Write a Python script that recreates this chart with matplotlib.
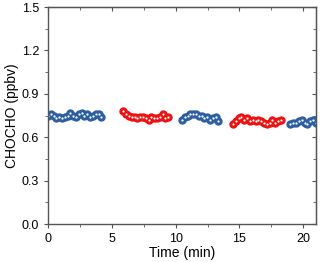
import numpy as np
import matplotlib.pyplot as plt
from matplotlib.ticker import MultipleLocator, NullFormatter

plt.rcParams['font.family'] = ['Liberation Sans', 'DejaVu Sans']

# blue runs
t1 = [0.0, 0.22, 0.44, 0.66, 0.88, 1.1, 1.32, 1.54, 1.76, 1.98, 2.2, 2.42, 2.64, 2.86, 3.08, 3.3, 3.52, 3.74, 3.96, 4.18]
c1 = [0.75, 0.76, 0.75, 0.73, 0.74, 0.73, 0.74, 0.75, 0.77, 0.75, 0.74, 0.76, 0.77, 0.75, 0.76, 0.74, 0.75, 0.76, 0.76, 0.74]
t3 = [10.5, 10.72, 10.94, 11.16, 11.38, 11.6, 11.82, 12.04, 12.26, 12.48, 12.7, 12.92, 13.14, 13.36]
c3 = [0.72, 0.74, 0.75, 0.76, 0.76, 0.76, 0.75, 0.75, 0.73, 0.74, 0.72, 0.73, 0.74, 0.71]
t5 = [19.0, 19.22, 19.44, 19.66, 19.88, 20.1, 20.32, 20.54, 20.76, 20.98]
c5 = [0.69, 0.70, 0.70, 0.71, 0.72, 0.70, 0.69, 0.71, 0.72, 0.70]

# red runs
t2 = [5.9, 6.12, 6.34, 6.56, 6.78, 7.0, 7.22, 7.44, 7.66, 7.88, 8.1, 8.32, 8.54, 8.76, 8.98, 9.2, 9.42]
c2 = [0.78, 0.76, 0.75, 0.74, 0.74, 0.73, 0.74, 0.74, 0.73, 0.72, 0.74, 0.73, 0.73, 0.74, 0.76, 0.73, 0.74]
t4 = [14.5, 14.72, 14.94, 15.16, 15.38, 15.6, 15.82, 16.04, 16.26, 16.48, 16.7, 16.92, 17.14, 17.36, 17.58, 17.8, 18.02, 18.24]
c4 = [0.69, 0.71, 0.73, 0.74, 0.72, 0.73, 0.71, 0.72, 0.71, 0.72, 0.71, 0.70, 0.69, 0.70, 0.72, 0.70, 0.71, 0.72]

blue = "#2d5fa0"
red = "#ee1111"

fig = plt.figure(figsize=(3.2, 2.62), dpi=100)
ax = fig.add_axes([0.15, 0.145, 0.8375, 0.828])

for t, c in [(t1, c1), (t3, c3), (t5, c5)]:
    ax.plot(t, c, "o", ms=5, mfc=blue, mec=blue, mew=1.0)
    ax.plot(t, c, "o", ms=1.6, mfc="white", mec="none")
for t, c in [(t2, c2), (t4, c4)]:
    ax.plot(t, c, "o", ms=5, mfc=red, mec=red, mew=1.0)
    ax.plot(t, c, "o", ms=1.6, mfc="white", mec="none")

ax.set_xlim(0, 21)
ax.set_ylim(0, 1.5)
ax.xaxis.set_major_locator(MultipleLocator(5))
ax.xaxis.set_minor_locator(MultipleLocator(2.5))
ax.yaxis.set_major_locator(MultipleLocator(0.3))
ax.yaxis.set_minor_locator(MultipleLocator(0.15))
ax.yaxis.set_major_formatter(plt.FormatStrFormatter("%.1f"))

for s in ax.spines.values():
    s.set_color("#555555")
    s.set_linewidth(1.0)
ax.tick_params(which="both", direction="out", colors="#555555", labelcolor="black", labelsize=9)
ax.tick_params(which="major", length=3)
ax.tick_params(which="minor", length=2)

# inward ticks on top and right
top = ax.secondary_xaxis("top")
top.xaxis.set_major_locator(MultipleLocator(5))
top.xaxis.set_minor_locator(MultipleLocator(2.5))
top.xaxis.set_major_formatter(NullFormatter())
right = ax.secondary_yaxis("right")
right.yaxis.set_major_locator(MultipleLocator(0.3))
right.yaxis.set_minor_locator(MultipleLocator(0.15))
right.yaxis.set_major_formatter(NullFormatter())
for sec in (top, right):
    sec.tick_params(which="both", direction="in", colors="#555555")
    sec.tick_params(which="major", length=3)
    sec.tick_params(which="minor", length=2)

ax.set_xlabel("Time (min)", fontsize=10, labelpad=1)
ax.set_ylabel("CHOCHO (ppbv)", fontsize=10, labelpad=2)

fig.savefig("out.png", dpi=100)
plt.close(fig)
